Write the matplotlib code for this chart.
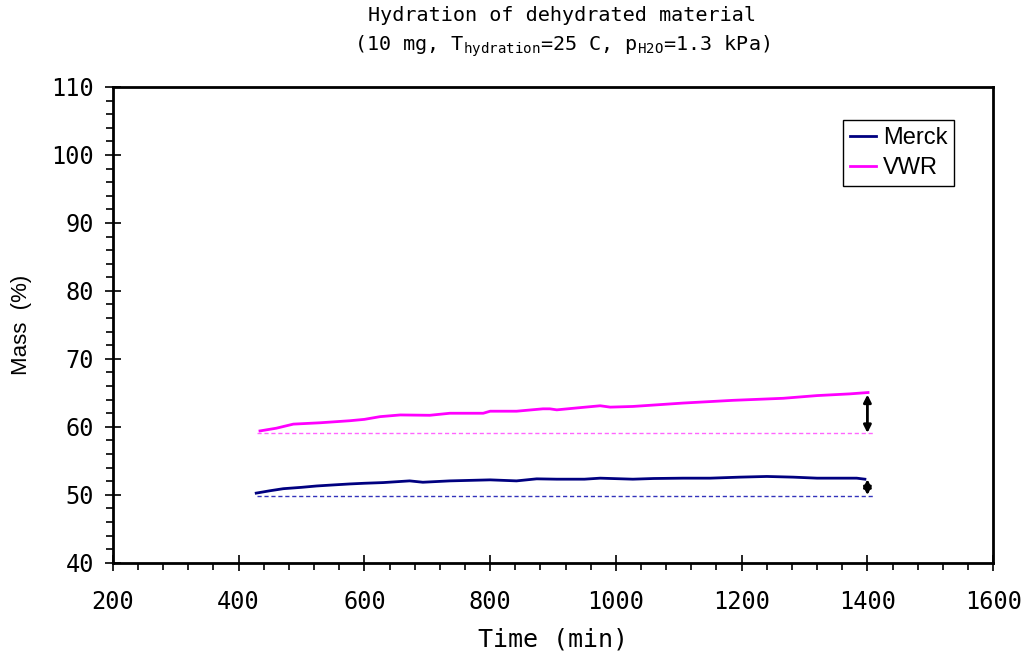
import matplotlib
matplotlib.use('Agg')
import matplotlib.pyplot as plt
from matplotlib.ticker import MultipleLocator

# values
merck_t = [428, 450, 471, 500, 524, 550, 577, 600, 630, 672, 693, 736, 800, 842, 874,
           906, 950, 975, 1027, 1060, 1107, 1150, 1197, 1240, 1282, 1320, 1383, 1396]
merck_m = [50.25, 50.6, 50.9, 51.1, 51.3, 51.45, 51.6, 51.7, 51.8, 52.05, 51.85, 52.05, 52.2, 52.05, 52.35,
           52.3, 52.3, 52.45, 52.3, 52.4, 52.45, 52.45, 52.6, 52.7, 52.6, 52.45, 52.45, 52.3]

vwr_t = [434, 460, 487, 530, 577, 600, 625, 657, 704, 736, 789, 800, 842, 884, 895,
         906, 940, 975, 991, 1027, 1107, 1186, 1266, 1320, 1372, 1401]
vwr_m = [59.4, 59.8, 60.4, 60.6, 60.9, 61.1, 61.5, 61.75, 61.7, 62.0, 62.0, 62.3, 62.3, 62.65, 62.65,
         62.5, 62.8, 63.1, 62.9, 63.0, 63.5, 63.9, 64.2, 64.6, 64.85, 65.05]

merck_base = 49.85
vwr_base = 59.1
base_t = [430, 1410]

plt.rcParams['mathtext.fontset'] = 'custom'
plt.rcParams['mathtext.rm'] = 'DejaVu Sans Mono'
plt.rcParams['mathtext.it'] = 'DejaVu Sans Mono'
mono = 'DejaVu Sans Mono'

fig = plt.figure(figsize=(10.26, 6.59), dpi=100)
ax = fig.add_axes([0.110, 0.146, 0.858, 0.722])

ax.plot(merck_t, merck_m, color='#000080', lw=2.0, label='Merck')
ax.plot(vwr_t, vwr_m, color='#ff00ff', lw=2.0, label='VWR')
ax.plot(base_t, [merck_base, merck_base], color='#3333bb', lw=1.0, ls=(0, (3, 2)))
ax.plot(base_t, [vwr_base, vwr_base], color='#ff66ff', lw=1.0, ls=(0, (3, 2)))

arrow = dict(arrowstyle='<|-|>', color='black', lw=2.0, mutation_scale=11, shrinkA=0, shrinkB=0)
ax.annotate('', xy=(1400, vwr_m[-1] - 0.3), xytext=(1400, vwr_base), arrowprops=arrow)
ax.annotate('', xy=(1400, merck_m[-1]), xytext=(1400, merck_base + 0.1), arrowprops=arrow)

ax.set_xlim(200, 1600)
ax.set_ylim(40, 110)
ax.xaxis.set_major_locator(MultipleLocator(200))
ax.xaxis.set_minor_locator(MultipleLocator(40))
ax.yaxis.set_major_locator(MultipleLocator(10))
ax.yaxis.set_minor_locator(MultipleLocator(2))
ax.tick_params(which='major', direction='inout', length=11, width=1.2, pad=8)
ax.tick_params(which='minor', direction='out', length=5, width=1.2)
ax.tick_params(axis='x', which='major', pad=14)
for lab in ax.get_xticklabels() + ax.get_yticklabels():
    lab.set_fontfamily(mono)
    lab.set_fontsize(17)
for s in ax.spines.values():
    s.set_linewidth(2)

ax.set_xlabel('Time (min)', family=mono, fontsize=18, labelpad=10)
ax.set_ylabel('Mass  (%)', family='Liberation Sans', fontsize=16, labelpad=14)

fig.text(0.548, 0.977, 'Hydration of dehydrated material', family=mono, fontsize=14.5,
         ha='center', va='center')
fig.text(0.548, 0.930, r'(10 mg, T$_{\mathrm{hydration}}$=25 C, p$_{\mathrm{H2O}}$=1.3 kPa)',
         family=mono, fontsize=14.5, ha='center', va='center')

leg = ax.legend(loc='upper right', bbox_to_anchor=(0.956, 0.931), prop={'family': 'Liberation Sans', 'size': 17},
                fancybox=False, edgecolor='black', framealpha=1, handlelength=1.1, handletextpad=0.3,
                borderpad=0.3, labelspacing=0.35, borderaxespad=0)
leg.get_frame().set_linewidth(1.0)

fig.savefig('out.png', dpi=100)
